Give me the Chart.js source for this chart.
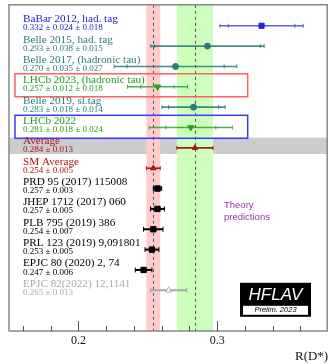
<!DOCTYPE html>
<html>
<head>
<meta charset="utf-8">
<script src="https://cdn.jsdelivr.net/npm/chart.js@4.4.0/dist/chart.umd.min.js"></script>
<style>
  html, body { margin: 0; padding: 0; background: #fff; }
  #wrap { width: 332px; height: 364px; }
</style>
</head>
<body>
<div id="wrap"><canvas id="c"></canvas></div>
<script>
// measurements and predictions, top to bottom
var names = [
  'BaBar 2012, had. tag',
  'Belle 2015, had. tag',
  'Belle 2017, (hadronic tau)',
  'LHCb 2023, (hadronic tau)',
  'Belle 2019, sl.tag',
  'LHCb 2022',
  'Average',
  'SM Average',
  'PRD 95 (2017) 115008',
  'JHEP 1712 (2017) 060',
  'PLB 795 (2019) 386',
  'PRL 123 (2019) 9,091801',
  'EPJC 80 (2020) 2, 74',
  'EPJC 82(2022) 12,1141'
];
var centers = [0.332, 0.293, 0.270, 0.257, 0.283, 0.281, 0.284, 0.254, 0.257, 0.257, 0.254, 0.253, 0.247, 0.265];
var statErr = [0.024, 0.038, 0.035, 0.012, 0.018, 0.018, 0.013, 0.005, 0.003, 0.005, 0.007, 0.005, 0.006, 0.013];
var systErr = [0.018, 0.015, 0.027, 0.018, 0.014, 0.024, null, null, null, null, null, null, null, null];
var xTicks = [0.2, 0.3];

var smValue = 0.254, smErr = 0.005;
var avgValue = 0.284, avgErr = 0.013;

// styling per row
var colors = ['#2222cc', '#2a7a7a', '#2a7a7a', '#22a022', '#2a7a7a', '#22a022', '#aa1515', '#aa1515',
  '#000', '#000', '#000', '#000', '#000', '#aaaaaa'];
var barColors = ['rgba(40,40,230,0.75)', 'rgba(30,110,110,0.8)', 'rgba(30,110,110,0.8)', 'rgba(30,160,30,0.8)',
  'rgba(30,110,110,0.8)', 'rgba(30,160,30,0.8)', '#aa1515', '#aa1515', '#000', '#000', '#000', '#000', '#000', '#aaaaaa'];
var styles = ['rect', 'circle', 'circle', 'triangle', 'circle', 'triangle', 'triangle', 'triangle',
  'rect', 'rect', 'rect', 'rect', 'rect', 'triangle'];
var rotations = [0, 0, 0, 180, 0, 180, 0, 0, 0, 0, 0, 0, 0, 0];
var radii = [3.6, 3, 3, 3.5, 3, 3.5, 3.2, 3.2, 3.8, 3.8, 3.8, 3.8, 3.8, 3.5];

function fmt(v) { return v.toFixed(3); }
var valueText = centers.map(function(c, i) {
  var s = fmt(c) + ' \u00b1 ' + fmt(statErr[i]);
  if (systErr[i] != null) s += ' \u00b1 ' + fmt(systErr[i]);
  return s;
});

var points = centers.map(function(c, i) { return { x: c, y: i }; });

var serif = '"Liberation Serif", "Times New Roman", serif';
var sans = '"Liberation Sans", Arial, sans-serif';

var decor = {
  id: 'decor',
  beforeDatasetsDraw: function(chart) {
    var ctx = chart.ctx, a = chart.chartArea;
    var x = chart.scales.x, y = chart.scales.y;
    ctx.save();
    // average row band
    ctx.fillStyle = '#cccccc';
    var gy0 = y.getPixelForValue(5.5), gy1 = y.getPixelForValue(6.3);
    ctx.fillRect(a.left, gy0, a.right - a.left, gy1 - gy0);
    // SM and average bands
    ctx.fillStyle = '#ffcccc';
    var r0 = x.getPixelForValue(smValue - smErr), r1 = x.getPixelForValue(smValue + smErr);
    ctx.fillRect(r0, a.top, r1 - r0, a.bottom - a.top);
    ctx.fillStyle = '#ccffbb';
    var g0 = x.getPixelForValue(avgValue - avgErr), g1 = x.getPixelForValue(avgValue + avgErr);
    ctx.fillRect(g0, a.top, g1 - g0, a.bottom - a.top);
    // dashed central lines
    ctx.strokeStyle = '#555';
    ctx.lineWidth = 1;
    ctx.setLineDash([3, 3]);
    [smValue, avgValue].forEach(function(v) {
      var px = Math.round(x.getPixelForValue(v)) + 0.5;
      ctx.beginPath(); ctx.moveTo(px, a.top); ctx.lineTo(px, a.bottom); ctx.stroke();
    });
    ctx.setLineDash([]);

    // highlight boxes for LHCb results
    ctx.lineWidth = 1.5;
    ctx.strokeStyle = '#ff6060';
    var bx0 = x.getPixelForValue(0.1543), bx1 = x.getPixelForValue(0.322);
    var ry0 = y.getPixelForValue(3 - 0.64), ry1 = y.getPixelForValue(3 + 0.49);
    ctx.strokeRect(bx0, ry0, bx1 - bx0, ry1 - ry0);
    ctx.strokeStyle = '#3a3aff';
    var by0 = y.getPixelForValue(5 - 0.6), by1 = y.getPixelForValue(5 + 0.53);
    ctx.strokeRect(bx0, by0, bx1 - bx0, by1 - by0);

    // error bars
    centers.forEach(function(c, i) {
      var py = y.getPixelForValue(i);
      var tot = systErr[i] != null ? Math.sqrt(statErr[i] * statErr[i] + systErr[i] * systErr[i]) : statErr[i];
      var theory = i >= 8;
      ctx.strokeStyle = barColors[i];
      ctx.lineWidth = theory ? 2 : 1.6;
      var xl = x.getPixelForValue(c - tot), xr = x.getPixelForValue(c + tot);
      ctx.beginPath(); ctx.moveTo(xl, py); ctx.lineTo(xr, py); ctx.stroke();
      var tk = [c - tot, c + tot];
      if (systErr[i] != null) tk.push(c - statErr[i], c + statErr[i]);
      ctx.lineWidth = 1;
      var h = theory ? 2.5 : 2;
      tk.forEach(function(v) {
        var px = x.getPixelForValue(v);
        ctx.beginPath(); ctx.moveTo(px, py - h); ctx.lineTo(px, py + h); ctx.stroke();
      });
    });

    // row labels
    ctx.textBaseline = 'middle';
    ctx.textAlign = 'left';
    names.forEach(function(n, i) {
      var py = y.getPixelForValue(i);
      ctx.fillStyle = colors[i];
      ctx.font = '11.2px ' + serif;
      ctx.fillText(n, a.left + 14, py - 6.5);
      ctx.font = '9px ' + serif;
      ctx.fillText(valueText[i], a.left + 14, py + 2.2);
    });
    ctx.restore();
  },
  afterDraw: function(chart) {
    var ctx = chart.ctx, a = chart.chartArea, x = chart.scales.x;
    ctx.save();
    // frame
    ctx.strokeStyle = '#888';
    ctx.lineWidth = 1.5;
    ctx.strokeRect(a.left, a.top, a.right - a.left, a.bottom - a.top);
    // inward ticks
    ctx.strokeStyle = '#555';
    ctx.lineWidth = 1;
    for (var k = 8; k <= 18; k++) {
      var v = k * 0.02;
      var px = Math.round(x.getPixelForValue(v)) + 0.5;
      var len = (k % 5 === 0) ? 10 : 5;
      ctx.beginPath(); ctx.moveTo(px, a.bottom); ctx.lineTo(px, a.bottom - len); ctx.stroke();
    }
    ctx.fillStyle = '#111';
    ctx.font = '12px ' + serif;
    ctx.textAlign = 'center';
    ctx.textBaseline = 'middle';
    xTicks.forEach(function(t) {
      ctx.fillText(String(t), x.getPixelForValue(t), a.bottom + 10);
    });
    ctx.font = '13px ' + serif;
    ctx.textAlign = 'right';
    ctx.fillText('R(D*)', a.right + 1, a.bottom + 26);

    // theory note
    ctx.fillStyle = '#9933aa';
    ctx.font = '9.5px ' + sans;
    ctx.textAlign = 'left';
    ctx.fillText('Theory', a.left + 215, a.top + 201);
    ctx.fillText('predictions', a.left + 215, a.top + 213);

    // HFLAV logo
    var lx = a.left + 231, ly = a.top + 278, lw = 71, lh = 34;
    ctx.fillStyle = '#000';
    ctx.fillRect(lx, ly, lw, lh);
    ctx.fillStyle = '#fff';
    ctx.fillRect(lx + 3, ly + 23, lw - 6, 9);
    ctx.font = 'italic 17px ' + sans;
    ctx.textAlign = 'center';
    ctx.fillText('HFLAV', lx + lw / 2, ly + 12);
    ctx.fillStyle = '#000';
    ctx.font = 'italic 7.5px ' + sans;
    ctx.fillText('Prelim. 2023', lx + lw / 2, ly + 27.5);
    ctx.restore();
  }
};

new Chart(document.getElementById('c'), {
  type: 'scatter',
  data: {
    datasets: [{
      data: points,
      pointStyle: styles,
      pointRotation: rotations,
      pointRadius: radii,
      pointHoverRadius: radii,
      backgroundColor: colors.map(function(c, i) { return i === 13 ? '#fff' : c; }),
      borderColor: colors,
      borderWidth: 1
    }]
  },
  options: {
    responsive: true,
    maintainAspectRatio: false,
    animation: false,
    events: [],
    layout: { padding: { left: 9, top: 4, right: 2, bottom: 33 } },
    plugins: { legend: { display: false }, tooltip: { enabled: false } },
    scales: {
      x: { type: 'linear', display: false, min: 0.15, max: 0.3793 },
      y: { type: 'linear', display: false, min: -1.03, max: 15, reverse: true }
    }
  },
  plugins: [decor]
});
</script>
</body>
</html>
